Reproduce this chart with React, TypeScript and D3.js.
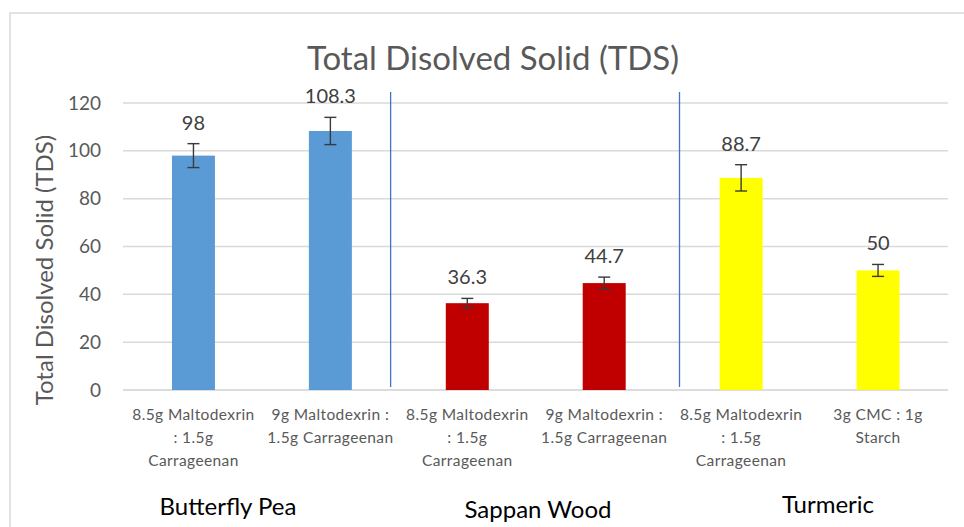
import React from 'react';
import * as d3 from 'd3';

// chart data
const groups = ['Butterfly Pea', 'Sappan Wood', 'Turmeric'];
const categoryLines = [
  ['8.5g Maltodexrin', ': 1.5g', 'Carrageenan'],
  ['9g Maltodexrin :', '1.5g Carrageenan'],
  ['8.5g Maltodexrin', ': 1.5g', 'Carrageenan'],
  ['9g Maltodexrin :', '1.5g Carrageenan'],
  ['8.5g Maltodexrin', ': 1.5g', 'Carrageenan'],
  ['3g CMC : 1g', 'Starch'],
];
const barGroup = [0, 0, 1, 1, 2, 2];
const tdsValues = [98, 108.3, 36.3, 44.7, 88.7, 50];
const tdsErrors = [5, 5.7, 2, 2.5, 5.5, 2.5];
const yTicks = [0, 20, 40, 60, 80, 100, 120];
const separatorAt = [1.94, 4.05]; // in band units, hand placed in the original

const groupColors = ['#5B9BD5', '#C00000', '#FFFF00'];
const groupLabelX = [228, 538, 828];
const groupLabelY = [515, 518, 513];

const width = 964;
const height = 527;
const font = 'Lato, "Open Sans", sans-serif';

export default function App() {
  const plot = { left: 125, right: 946.5, top: 103, bottom: 390 };
  const gridLeft = 123;
  const gridRight = 948;

  const idx = tdsValues.map((d, i) => i);

  const x = d3.scaleBand<number>()
    .domain(idx)
    .range([plot.left, plot.right])
    .paddingInner(0.686)
    .paddingOuter(0.343);

  const xUnit = d3.scaleLinear()
    .domain([0, idx.length])
    .range([plot.left, plot.right]);

  const y = d3.scaleLinear()
    .domain([0, 120])
    .range([plot.bottom, plot.top]);

  const bw = x.bandwidth();

  return (
    <svg width={width} height={height}
         style={{ position: 'absolute', left: 0, top: 0, background: '#fff' }}>
      <rect x={10} y={13} width={1000} height={600} fill="#fff" stroke="#d9d9d9" strokeWidth={1.5} />

      <text x={493} y={70} textAnchor="middle" fontFamily={font} fontSize={33} fill="#595959">
        Total Disolved Solid (TDS)
      </text>

      {/* gridlines and y ticks */}
      {yTicks.map(t => (
        <g key={t}>
          <line x1={gridLeft} x2={gridRight} y1={y(t)} y2={y(t)}
                stroke={t === 0 ? '#d0d0d0' : '#d9d9d9'} strokeWidth={1.5} />
          <text x={101} y={y(t)} dy="0.35em" textAnchor="end"
                fontFamily={font} fontSize={19} fill="#595959">{t}</text>
        </g>
      ))}

      <text transform={'translate(45,270) rotate(-90)'} textAnchor="middle" dy="0.35em"
            fontFamily={font} fontSize={24} fill="#595959">
        Total Disolved Solid (TDS)
      </text>

      {/* group separators */}
      {separatorAt.map((s, i) => (
        <line key={i} x1={xUnit(s)} x2={xUnit(s)} y1={92} y2={387}
              stroke="#4472C4" strokeWidth={1.3} />
      ))}

      {/* bars */}
      {tdsValues.map((v, i) => (
        <rect key={i} x={x(i)} y={y(v)} width={bw} height={y(0) - y(v)}
              fill={groupColors[barGroup[i]]} />
      ))}

      {/* error bars */}
      {tdsValues.map((v, i) => {
        const cx = (x(i) as number) + bw / 2;
        const top = y(v + tdsErrors[i]);
        const bot = y(v - tdsErrors[i]);
        return (
          <g key={i} stroke="#3a3a3a" strokeWidth={1.4}>
            <line x1={cx} x2={cx} y1={top} y2={bot} />
            <line x1={cx - 6} x2={cx + 6} y1={top} y2={top} />
            <line x1={cx - 6} x2={cx + 6} y1={bot} y2={bot} />
          </g>
        );
      })}

      {/* data labels */}
      {tdsValues.map((v, i) => (
        <text key={i} x={(x(i) as number) + bw / 2} y={y(v + tdsErrors[i]) - 21} dy="0.35em"
              textAnchor="middle" fontFamily={font} fontSize={20} fill="#404040">{v}</text>
      ))}

      {/* category labels */}
      {categoryLines.map((lines, i) => (
        <text key={i} textAnchor="middle" fontFamily={font} fontSize={15.5} letterSpacing={0.4}
              fill="#595959">
          {lines.map((l, j) => (
            <tspan key={j} x={(x(i) as number) + bw / 2} y={415 + j * 23} dy="0.35em">{l}</tspan>
          ))}
        </text>
      ))}

      {/* group labels */}
      {groups.map((g, i) => (
        <text key={g} x={groupLabelX[i]} y={groupLabelY[i]} textAnchor="middle"
              fontFamily={font} fontSize={24} fill="#000">{g}</text>
      ))}
    </svg>
  );
}
